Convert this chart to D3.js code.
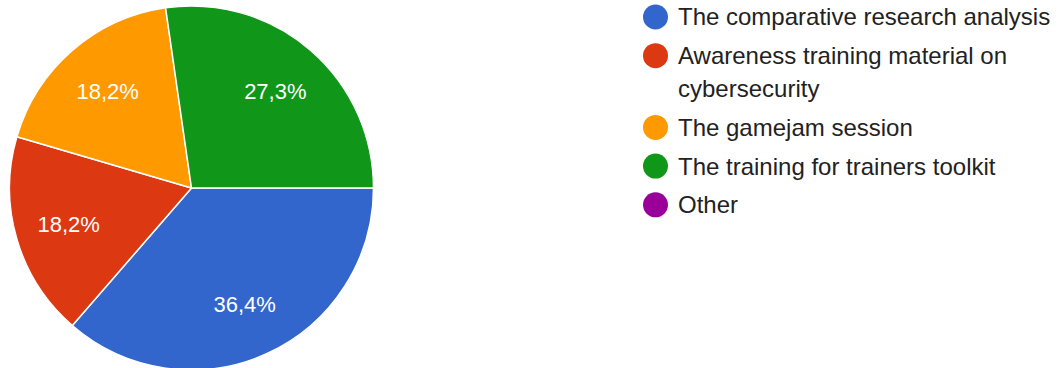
<!DOCTYPE html>
<html>
<head>
<meta charset="utf-8">
<script src="https://cdn.jsdelivr.net/npm/d3@7"></script>
<style>
  html, body { margin: 0; padding: 0; background: #fff; }
  svg { display: block; }
</style>
</head>
<body>
<svg id="chart" width="1059" height="368"></svg>
<script>
// Survey answers (response counts) and their legend text
const categories = [
  "The comparative research analysis",
  "Awareness training material on cybersecurity",
  "The gamejam session",
  "The training for trainers toolkit",
  "Other"
];
const counts = [4, 2, 2, 3, 0];
const colors = ["#3366cc", "#dc3912", "#ff9900", "#109618", "#990099"];
// legend lines (long entries wrap)
const legendLines = [
  ["The comparative research analysis"],
  ["Awareness training material on", "cybersecurity"],
  ["The gamejam session"],
  ["The training for trainers toolkit"],
  ["Other"]
];

const FONT = "'Liberation Sans', Arial, sans-serif";
const svg = d3.select("#chart");
const cx = 191.5, cy = 188, R = 182, labelR = 128;
const total = d3.sum(counts);

const pie = d3.pie()
  .sort(null)
  .value(d => d)
  .startAngle(Math.PI / 2)
  .endAngle(Math.PI / 2 + 2 * Math.PI);

const arcs = pie(counts).map((a, i) => ({ ...a, i }));
const arc = d3.arc().innerRadius(0).outerRadius(R);
const labelArc = d3.arc().innerRadius(labelR).outerRadius(labelR);

const g = svg.append("g").attr("transform", `translate(${cx},${cy})`);

g.selectAll("path.slice")
  .data(arcs.filter(d => d.value > 0))
  .join("path")
  .attr("class", "slice")
  .attr("d", arc)
  .attr("fill", d => colors[d.i])
  .attr("stroke", "#fff")
  .attr("stroke-width", 1.5)
  .attr("stroke-linejoin", "round");

const fmt = v => (Math.round(v / total * 1000) / 10).toFixed(1).replace(".", ",") + "%";

g.selectAll("text.pct")
  .data(arcs.filter(d => d.value > 0))
  .join("text")
  .attr("class", "pct")
  .attr("transform", d => `translate(${labelArc.centroid(d)})`)
  .attr("text-anchor", "middle")
  .attr("dy", "0.36em")
  .attr("fill", "#fff")
  .style("font-family", FONT)
  .style("font-size", "22px")
  .text(d => fmt(d.value));

// Legend
const legend = svg.append("g").attr("transform", "translate(655.5,17)");
const itemGap = 38.7, wrapGap = 33;
let y = 0;
legendLines.forEach((lines, i) => {
  const item = legend.append("g").attr("transform", `translate(0,${y})`);
  item.append("circle").attr("r", 12.5).attr("fill", colors[i]);
  const t = item.append("text")
    .attr("x", 22.5)
    .attr("fill", "#222")
    .style("font-family", FONT)
    .style("font-size", "24px");
  lines.forEach((ln, j) => {
    t.append("tspan").attr("x", 22.5).attr("y", j * wrapGap).attr("dy", "0.35em").text(ln);
  });
  y += itemGap + (lines.length - 1) * wrapGap;
});
</script>
</body>
</html>
